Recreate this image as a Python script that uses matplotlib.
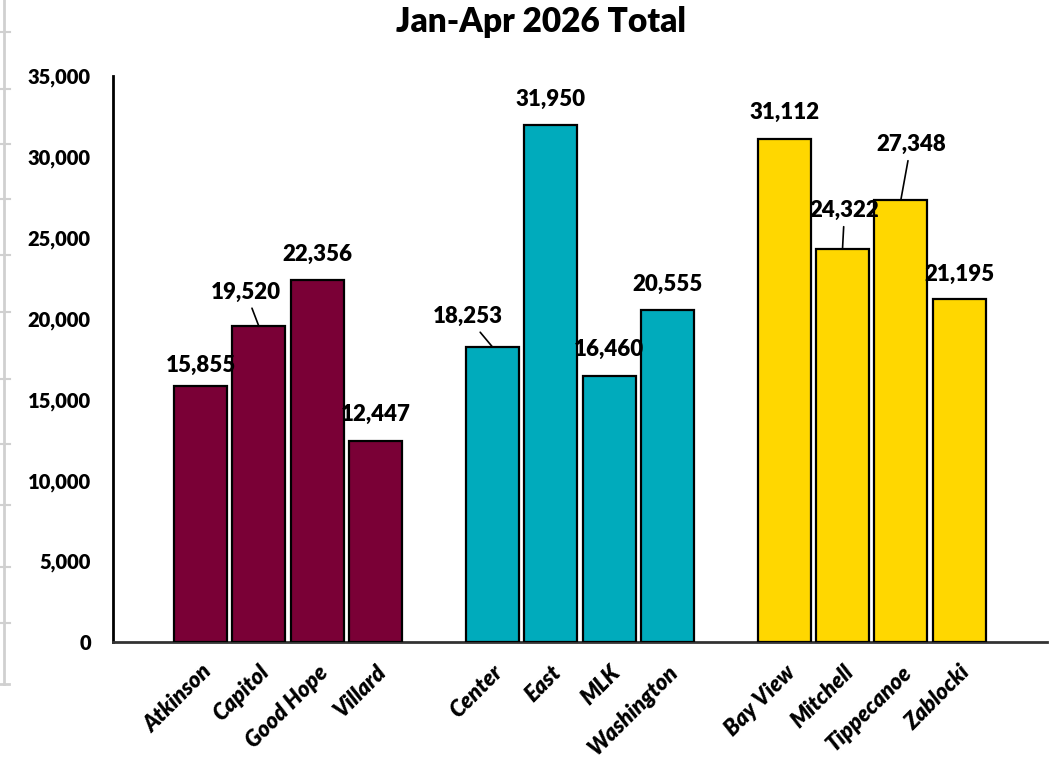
import numpy as np
import matplotlib
matplotlib.use('Agg')
import matplotlib.pyplot as plt
from matplotlib.lines import Line2D
from matplotlib.ticker import FuncFormatter

plt.rcParams['font.family'] = ['Lato', 'DejaVu Sans']

# three groups of schools, one empty slot between groups
groups = [
    ['Atkinson', 'Capitol', 'Good Hope', 'Villard'],
    ['Center', 'East', 'MLK', 'Washington'],
    ['Bay View', 'Mitchell', 'Tippecanoe', 'Zablocki'],
]
values = [
    [15855, 19520, 22356, 12447],
    [18253, 31950, 16460, 20555],
    [31112, 24322, 27348, 21195],
]
group_colors = ['#7A0036', '#00ABBC', '#FFD700']

# label offsets (pixels) from bar top, and whether Excel drew a leader line
label_offsets = {
    'Atkinson': (0, 20), 'Capitol': (-13, 34), 'Good Hope': (0, 26), 'Villard': (0, 26),
    'Center': (-25, 30), 'East': (0, 26), 'MLK': (0, 26), 'Washington': (0, 25),
    'Bay View': (0, 26), 'Mitchell': (2, 38), 'Tippecanoe': (10, 55), 'Zablocki': (0, 25),
}
leaders = {'Capitol', 'Center', 'Mitchell', 'Tippecanoe'}

fig = plt.figure(figsize=(10.51, 7.59), dpi=100)
ax = fig.add_axes([0.1075, 0.154, 0.8885, 0.746])

names, xs, ys, cols = [], [], [], []
pos = 0
for g, (labels, vals) in enumerate(zip(groups, values)):
    for name, v in zip(labels, vals):
        names.append(name)
        xs.append(pos)
        ys.append(v)
        cols.append(group_colors[g])
        pos += 1
    pos += 1

ax.bar(xs, ys, width=0.91, color=cols, edgecolor='black', linewidth=1.6, zorder=3)

for name, x, y in zip(names, xs, ys):
    dx, dy = label_offsets[name]
    arrow = None
    if name in leaders:
        arrow = dict(arrowstyle='-', color='black', lw=1.2, shrinkA=2, shrinkB=0)
    ax.annotate(f'{y:,}', xy=(x, y), xytext=(dx, dy), textcoords='offset pixels',
                ha='center', va='center', fontsize=16, fontweight='heavy',
                arrowprops=arrow, zorder=4)

ax.set_xlim(-1.5, xs[-1] + 1.5)
ax.set_ylim(0, 35000)
ax.set_yticks(np.arange(0, 35001, 5000))
ax.yaxis.set_major_formatter(FuncFormatter(lambda v, p: f'{int(v):,}'))
ax.set_xticks(xs)
ax.set_xticklabels(names, rotation=45, ha='right', rotation_mode='anchor',
                   fontsize=16, fontweight='heavy', fontstyle='italic')
ax.tick_params(axis='y', length=0, pad=16, labelsize=14.5)
ax.tick_params(axis='x', length=0, pad=14)
for lab in ax.get_yticklabels():
    lab.set_fontweight('heavy')

for side in ['top', 'right']:
    ax.spines[side].set_visible(False)
ax.spines['left'].set_linewidth(2)
ax.spines['bottom'].set_linewidth(2)
ax.spines['bottom'].set_color('#333333')

fig.text(0.515, 0.971, 'Jan-Apr 2026 Total', ha='center', va='center',
         fontsize=24, fontweight='heavy')

# faint spreadsheet border peeking in at the left
W, H = 1051, 759
fig.add_artist(Line2D([4 / W, 4 / W], [1, 1 - 684 / H], color='#d0d0d0', lw=2))
fig.add_artist(Line2D([0, 9 / W], [1 - 684 / H, 1 - 684 / H], color='#d0d0d0', lw=2))
for yy in [32, 89, 144, 199, 255, 312, 379, 444, 505, 567, 623]:
    fig.add_artist(Line2D([0, 10 / W], [1 - yy / H, 1 - yy / H], color='#d0d0d0', lw=1.5))

fig.savefig('out.png', dpi=100)
